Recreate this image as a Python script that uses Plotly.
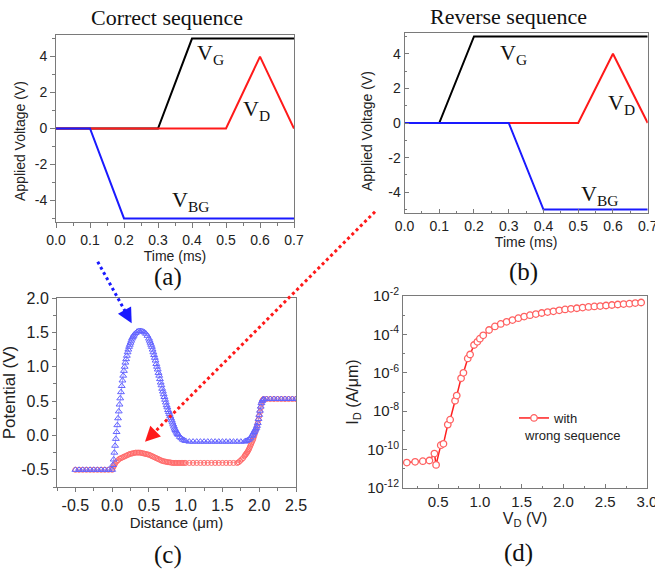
import plotly.graph_objects as go

W, H = 655, 572

# ---------------- data ----------------
# (a) correct sequence
a_t_vg = [0.0, 0.3, 0.4, 0.7]
a_vg = [0, 0, 5, 5]
a_t_vd = [0.0, 0.5, 0.6, 0.7]
a_vd = [0, 0, 4, 0]
a_t_vbg = [0.0, 0.1, 0.2, 0.7]
a_vbg = [0, 0, -5, -5]

# (b) reverse sequence
b_t_vg = [0.0, 0.1, 0.2, 0.7]
b_vg = [0, 0, 5, 5]
b_t_vd = [0.0, 0.5, 0.6, 0.7]
b_vd = [0, 0, 4, 0]
b_t_vbg = [0.0, 0.3, 0.4, 0.7]
b_vbg = [0, 0, -5, -5]

# (c) potential profile, correct sequence (blue)
c_blue_x = [-0.50, -0.45, -0.40, -0.35, -0.30, -0.25, -0.20, -0.15, -0.10, -0.05,
            0.00, 0.01, 0.02, 0.03, 0.04, 0.05, 0.06, 0.07, 0.08, 0.09,
            0.10, 0.11, 0.12, 0.13, 0.14, 0.15, 0.16, 0.17, 0.18, 0.19,
            0.20, 0.21, 0.22, 0.23, 0.24, 0.25, 0.26, 0.27, 0.28, 0.29,
            0.30, 0.32, 0.34, 0.36, 0.38, 0.40, 0.42, 0.44, 0.46, 0.48,
            0.50, 0.51, 0.52, 0.53, 0.54, 0.55, 0.56, 0.57, 0.58, 0.59,
            0.60, 0.61, 0.62, 0.63, 0.64, 0.65, 0.66, 0.67, 0.68, 0.69,
            0.70, 0.71, 0.72, 0.73, 0.74, 0.75, 0.76, 0.77, 0.78, 0.79,
            0.80, 0.81, 0.82, 0.83, 0.84, 0.85, 0.86, 0.87, 0.88, 0.89,
            0.90, 0.92, 0.94, 0.96, 0.98, 1.00,
            1.05, 1.10, 1.15, 1.20, 1.25, 1.30, 1.35, 1.40, 1.45, 1.50,
            1.55, 1.60, 1.65, 1.70, 1.75, 1.80,
            1.82, 1.84, 1.86, 1.88, 1.90, 1.91, 1.92, 1.93, 1.94, 1.95,
            1.96, 1.97, 1.98, 1.99, 2.00, 2.01, 2.02, 2.03, 2.04, 2.05, 2.06,
            2.10, 2.15, 2.20, 2.25, 2.30, 2.35, 2.40, 2.45, 2.50]
c_blue_y = [-0.50, -0.50, -0.50, -0.50, -0.50, -0.50, -0.50, -0.50, -0.50, -0.50,
            -0.50, -0.43, -0.35, -0.25, -0.15, -0.05, 0.05, 0.15, 0.25, 0.35,
            0.45, 0.54, 0.63, 0.72, 0.80, 0.87, 0.94, 1.00, 1.06, 1.11,
            1.16, 1.21, 1.25, 1.29, 1.32, 1.35, 1.38, 1.41, 1.43, 1.45,
            1.47, 1.49, 1.51, 1.52, 1.52, 1.52, 1.51, 1.50, 1.48, 1.45,
            1.41, 1.38, 1.35, 1.32, 1.29, 1.25, 1.21, 1.17, 1.13, 1.09,
            1.04, 1.00, 0.96, 0.91, 0.87, 0.82, 0.77, 0.73, 0.68, 0.64,
            0.60, 0.56, 0.52, 0.48, 0.44, 0.41, 0.37, 0.34, 0.31, 0.28,
            0.25, 0.22, 0.19, 0.16, 0.13, 0.10, 0.08, 0.06, 0.04, 0.02,
            0.01, -0.02, -0.04, -0.06, -0.07, -0.08,
            -0.09, -0.09, -0.09, -0.09, -0.09, -0.09, -0.09, -0.09, -0.09, -0.09,
            -0.09, -0.09, -0.09, -0.09, -0.09, -0.09,
            -0.08, -0.07, -0.06, -0.04, -0.01, 0.01, 0.03, 0.05, 0.07, 0.09,
            0.11, 0.14, 0.18, 0.24, 0.30, 0.36, 0.42, 0.47, 0.50, 0.52, 0.53,
            0.53, 0.53, 0.53, 0.53, 0.53, 0.53, 0.53, 0.53, 0.53]

# (c) potential profile, reverse sequence (red)
c_red_x = [-0.50, -0.45, -0.40, -0.35, -0.30, -0.25, -0.20, -0.15, -0.10, -0.05,
           0.00, 0.01, 0.02, 0.03, 0.04, 0.06, 0.08, 0.10, 0.12, 0.14,
           0.16, 0.18, 0.20, 0.22, 0.24, 0.26, 0.28, 0.30, 0.32, 0.34,
           0.36, 0.38, 0.40, 0.42, 0.44, 0.46, 0.48, 0.50, 0.52, 0.54,
           0.56, 0.58, 0.60, 0.62, 0.64, 0.66, 0.68, 0.70, 0.72, 0.74,
           0.76, 0.78, 0.80, 0.82, 0.84, 0.86, 0.88, 0.90, 0.92, 0.94,
           0.96, 0.98, 1.00, 1.05, 1.10, 1.15, 1.20, 1.25, 1.30, 1.35,
           1.40, 1.45, 1.50, 1.55, 1.60, 1.65, 1.70, 1.72, 1.74, 1.76,
           1.78, 1.80, 1.81, 1.82, 1.83, 1.84, 1.85, 1.86, 1.87, 1.88,
           1.89, 1.90, 1.91, 1.92, 1.93, 1.94, 1.95, 1.96, 1.97, 1.98,
           1.99, 2.00, 2.01, 2.02, 2.03, 2.04, 2.05, 2.06,
           2.10, 2.15, 2.20, 2.25, 2.30, 2.35, 2.40, 2.45, 2.50]
c_red_y = [-0.50, -0.50, -0.50, -0.50, -0.50, -0.50, -0.50, -0.50, -0.50, -0.50,
           -0.50, -0.47, -0.45, -0.43, -0.41, -0.38, -0.36, -0.34, -0.33, -0.32,
           -0.31, -0.30, -0.29, -0.28, -0.27, -0.265, -0.26, -0.255, -0.25, -0.25,
           -0.25, -0.25, -0.255, -0.26, -0.265, -0.27, -0.275, -0.28, -0.29, -0.30,
           -0.31, -0.32, -0.33, -0.34, -0.35, -0.36, -0.37, -0.375, -0.38, -0.385,
           -0.39, -0.39, -0.395, -0.40, -0.40, -0.40, -0.40, -0.40, -0.40, -0.40,
           -0.40, -0.40, -0.40, -0.40, -0.40, -0.40, -0.40, -0.40, -0.40, -0.40,
           -0.40, -0.40, -0.40, -0.40, -0.40, -0.40, -0.40, -0.39, -0.37, -0.35,
           -0.33, -0.30, -0.285, -0.27, -0.255, -0.24, -0.22, -0.20, -0.175, -0.15,
           -0.125, -0.10, -0.075, -0.05, -0.015, 0.02, 0.06, 0.10, 0.14, 0.18,
           0.23, 0.28, 0.34, 0.40, 0.46, 0.50, 0.52, 0.53,
           0.53, 0.53, 0.53, 0.53, 0.53, 0.53, 0.53, 0.53, 0.53]

# (d) transfer curve with wrong sequence
d_vd = [0.126, 0.225, 0.317, 0.396, 0.456, 0.476, 0.532, 0.564, 0.616, 0.644,
        0.703, 0.723, 0.775, 0.803, 0.855, 0.883, 0.930, 0.970, 1.000, 1.040,
        1.110, 1.180, 1.250, 1.320, 1.390, 1.460, 1.530, 1.600, 1.670, 1.740,
        1.810, 1.880, 1.950, 2.020, 2.090, 2.160, 2.230, 2.300, 2.370, 2.440,
        2.510, 2.580, 2.650, 2.720, 2.790, 2.860, 2.930]
d_id = [2.1e-11, 2.3e-11, 2.5e-11, 2.7e-11, 6.2e-11, 1.6e-11, 1.7e-10, 2.0e-10, 2.0e-9, 3.6e-9,
        3.5e-8, 6.5e-8, 5.2e-7, 1.0e-6, 5.6e-6, 9.0e-6, 2.8e-5, 4.1e-5, 6.0e-5, 9.0e-5,
        1.7e-4, 2.6e-4, 3.5e-4, 4.5e-4, 5.6e-4, 7.0e-4, 8.5e-4, 1.0e-3, 1.15e-3, 1.3e-3,
        1.45e-3, 1.6e-3, 1.8e-3, 2.0e-3, 2.15e-3, 2.3e-3, 2.5e-3, 2.7e-3, 2.85e-3, 3.0e-3,
        3.2e-3, 3.4e-3, 3.6e-3, 3.8e-3, 4.0e-3, 4.3e-3, 4.6e-3]

time_ticks = [0, 0.1, 0.2, 0.3, 0.4, 0.5, 0.6, 0.7]
time_labels = ["0.0", "0.1", "0.2", "0.3", "0.4", "0.5", "0.6", "0.7"]
volt_ticks = [-4, -2, 0, 2, 4]
volt_labels = ["-4", "-2", "0", "2", "4"]
dist_ticks = [-0.5, 0, 0.5, 1.0, 1.5, 2.0, 2.5]
dist_labels = ["-0.5", "0.0", "0.5", "1.0", "1.5", "2.0", "2.5"]
pot_ticks = [-0.5, 0, 0.5, 1.0, 1.5, 2.0]
pot_labels = ["-0.5", "0.0", "0.5", "1.0", "1.5", "2.0"]
vd_ticks = [0.5, 1.0, 1.5, 2.0, 2.5, 3.0]
vd_labels = ["0.5", "1.0", "1.5", "2.0", "2.5", "3.0"]
d_ytickvals = [1e-12, 1e-10, 1e-8, 1e-6, 1e-4, 1e-2]
d_yticktext = ["10<sup>-12</sup>", "10<sup>-10</sup>", "10<sup>-8</sup>",
               "10<sup>-6</sup>", "10<sup>-4</sup>", "10<sup>-2</sup>"]
d_yminor = [1e-11, 1e-9, 1e-7, 1e-5, 1e-3]

# ---------------- layout helpers ----------------
def px_x(p):
    return p / W

def px_y(p):
    return 1 - p / H

def dom_x(a, b):
    return [px_x(a), px_x(b)]

def dom_y(top, bottom):
    return [px_y(bottom), px_y(top)]

SANS = "Liberation Sans, Arial, sans-serif"
SERIF = "Liberation Serif, Times New Roman, serif"
FRAME = "#7a7a7a"
TXT = "#222222"

def axis_style(tsize=15, title="", tsz=14, standoff=4, ticks="outside", ticklen=5):
    return dict(
        showline=True, linecolor=FRAME, linewidth=1, mirror=True,
        ticks=ticks, ticklen=ticklen, tickwidth=1, tickcolor=FRAME,
        showgrid=False, zeroline=False, automargin=False, ticklabeloverflow="allow",
        tickfont=dict(family=SANS, size=tsize, color=TXT),
        title=dict(text=title, font=dict(family=SANS, size=tsz, color=TXT), standoff=standoff),
    )

fig = go.Figure()

BLACK, RED, BLUE = "#000000", "#ff1a1a", "#1a1aff"

# (a)
fig.add_trace(go.Scatter(x=a_t_vg, y=a_vg, mode="lines", line=dict(color=BLACK, width=2), xaxis="x", yaxis="y", showlegend=False))
fig.add_trace(go.Scatter(x=a_t_vd, y=a_vd, mode="lines", line=dict(color=RED, width=2), xaxis="x", yaxis="y", showlegend=False))
fig.add_trace(go.Scatter(x=a_t_vbg, y=a_vbg, mode="lines", line=dict(color=BLUE, width=2), xaxis="x", yaxis="y", showlegend=False))
# (b)
fig.add_trace(go.Scatter(x=b_t_vg, y=b_vg, mode="lines", line=dict(color=BLACK, width=2), xaxis="x2", yaxis="y2", showlegend=False))
fig.add_trace(go.Scatter(x=b_t_vd, y=b_vd, mode="lines", line=dict(color=RED, width=2), xaxis="x2", yaxis="y2", showlegend=False))
fig.add_trace(go.Scatter(x=b_t_vbg, y=b_vbg, mode="lines", line=dict(color=BLUE, width=2), xaxis="x2", yaxis="y2", showlegend=False))
# (c)
fig.add_trace(go.Scatter(x=c_red_x, y=c_red_y, mode="lines+markers",
                         line=dict(color="#ff8a8a", width=0.8),
                         marker=dict(symbol="circle-open", size=5, color="#ff6b6b", line=dict(width=1)),
                         xaxis="x3", yaxis="y3", showlegend=False))
fig.add_trace(go.Scatter(x=c_blue_x, y=c_blue_y, mode="lines+markers",
                         line=dict(color="#8a8aff", width=0.8),
                         marker=dict(symbol="triangle-up-open", size=6, color="#6464ff", line=dict(width=1)),
                         xaxis="x3", yaxis="y3", showlegend=False))
# (d)
fig.add_trace(go.Scatter(x=d_vd, y=d_id, mode="lines+markers", name="with",
                         line=dict(color="#ff2020", width=1.5),
                         marker=dict(symbol="circle", size=6.5, color="white", line=dict(color="#ff6060", width=1.3)),
                         xaxis="x4", yaxis="y4", showlegend=True))

# axes
xa = axis_style(14, "Time (ms)", 14, 0)
xa.update(domain=dom_x(56, 294), range=[0, 0.7], anchor="y", tickvals=time_ticks, ticktext=time_labels,
          minor=dict(dtick=0.05, ticklen=3, tickcolor=FRAME, ticks="outside"))
ya = axis_style(14, "", 14, 6)
ya.update(domain=dom_y(35, 222), range=[-5.2, 5.2], anchor="x", tickvals=volt_ticks, ticktext=volt_labels,
          minor=dict(dtick=1, ticklen=3, tickcolor=FRAME, ticks="outside"))

xb = axis_style(14, "Time (ms)", 14, 2, ticks="inside", ticklen=4)
xb.update(domain=dom_x(404.5, 647.7), range=[0, 0.7], anchor="y2", tickvals=time_ticks, ticktext=time_labels,
          minor=dict(dtick=0.05, ticklen=2, tickcolor=FRAME, ticks="inside"))
yb = axis_style(14, "", 14, 6, ticks="inside", ticklen=4)
yb.update(domain=dom_y(33, 213), range=[-5.2, 5.2], anchor="x2", tickvals=volt_ticks, ticktext=volt_labels,
          minor=dict(dtick=1, ticklen=2, tickcolor=FRAME, ticks="inside"))

xc = axis_style(16, "Distance (μm)", 15, 2, ticklen=4)
xc.update(domain=dom_x(57, 296), range=[-0.75, 2.5], anchor="y3", tickvals=dist_ticks, ticktext=dist_labels,
          minor=dict(tick0=-0.75, dtick=0.25, ticklen=3, tickcolor=FRAME, ticks="outside"))
yc = axis_style(16, "Potential (V)", 17, 6, ticklen=4)
yc.update(domain=dom_y(298, 487), range=[-0.75, 2.0], anchor="x3", tickvals=pot_ticks, ticktext=pot_labels,
          minor=dict(tick0=-0.75, dtick=0.25, ticklen=3, tickcolor=FRAME, ticks="outside"))

xd = axis_style(15, "V<sub>D</sub> (V)", 16, 3, ticks="inside", ticklen=4)
xd.update(domain=dom_x(403, 647), range=[0.08, 3.0], anchor="y4", tickvals=vd_ticks, ticktext=vd_labels,
          minor=dict(tick0=0, dtick=0.25, ticklen=2, tickcolor=FRAME, ticks="inside"))
yd = axis_style(15, "I<sub>D</sub> (A/μm)", 16, 4, ticks="inside", ticklen=4)
yd.update(domain=dom_y(296, 488), type="log", range=[-12, -2], anchor="x4",
          tickvals=d_ytickvals, ticktext=d_yticktext,
          minor=dict(tickvals=d_yminor, ticklen=2, tickcolor=FRAME, ticks="inside"))

fig.update_layout(
    width=W, height=H, margin=dict(l=0, r=0, t=0, b=0),
    paper_bgcolor="white", plot_bgcolor="white",
    xaxis=xa, yaxis=ya, xaxis2=xb, yaxis2=yb, xaxis3=xc, yaxis3=yc, xaxis4=xd, yaxis4=yd,
    legend=dict(x=px_x(514), y=px_y(403), xanchor="left", yanchor="top",
                bgcolor="rgba(0,0,0,0)", font=dict(family=SANS, size=13, color=TXT),
                itemwidth=30, tracegroupgap=0),
)

ann = []
def txt(x, y, s, size, family=SERIF, color="#111", xref="paper", yref="paper", xanchor="center", angle=0):
    ann.append(dict(x=x, y=y, xref=xref, yref=yref, text=s, showarrow=False, textangle=angle,
                    font=dict(family=family, size=size, color=color), xanchor=xanchor, yanchor="middle"))

txt(px_x(167), px_y(18), "Correct sequence", 22)
txt(px_x(508), px_y(17), "Reverse sequence", 22)
txt(px_x(168), px_y(277), "(a)", 25)
txt(px_x(523), px_y(272), "(b)", 25)
txt(px_x(168), px_y(555), "(c)", 25)
txt(px_x(518), px_y(553), "(d)", 25)

# y-axis titles of (a), (b)
txt(px_x(20), px_y(141), "Applied Voltage (V)", 14, family=SANS, color=TXT, angle=-90)
txt(px_x(367), px_y(131), "Applied Voltage (V)", 14, family=SANS, color=TXT, angle=-90)

# curve labels in (a), (b)
txt(0.455, 4.15, "V<sub>G</sub>", 22, xref="x", yref="y")
txt(0.59, 1.05, "V<sub>D</sub>", 22, xref="x", yref="y")
txt(0.395, -4.05, "V<sub>BG</sub>", 22, xref="x", yref="y")
txt(0.315, 4.0, "V<sub>G</sub>", 22, xref="x2", yref="y2")
txt(0.625, 1.1, "V<sub>D</sub>", 22, xref="x2", yref="y2")
txt(0.56, -4.15, "V<sub>BG</sub>", 22, xref="x2", yref="y2")

# legend second line
txt(px_x(522), px_y(435), "wrong sequence", 13, family=SANS, color=TXT, xanchor="left")

# arrowheads
ann.append(dict(x=px_x(131.7), y=px_y(323.3), xref="paper", yref="paper", ax=-6, ay=-11,
                showarrow=True, arrowhead=2, arrowsize=1, arrowwidth=3, arrowcolor="#1a1aff", text=""))
ann.append(dict(x=px_x(145), y=px_y(441.7), xref="paper", yref="paper", ax=9, ay=-9,
                showarrow=True, arrowhead=2, arrowsize=1, arrowwidth=3, arrowcolor="#ff1a1a", text=""))
fig.update_layout(annotations=ann)

shapes = [
    dict(type="line", xref="paper", yref="paper", x0=px_x(97.7), y0=px_y(261.7), x1=px_x(128), y1=px_y(316.5),
         line=dict(color="#1a1aff", width=3, dash="dot")),
    dict(type="line", xref="paper", yref="paper", x0=px_x(375), y0=px_y(211.7), x1=px_x(151), y1=px_y(435.7),
         line=dict(color="#ff1a1a", width=3, dash="dot")),
]
fig.update_layout(shapes=shapes)

fig.write_html(
    "out.html",
    config={"displayModeBar": False},
    post_script="document.body.style.margin='0px';document.body.style.overflow='hidden';"
                "document.documentElement.style.overflow='hidden';",
)
